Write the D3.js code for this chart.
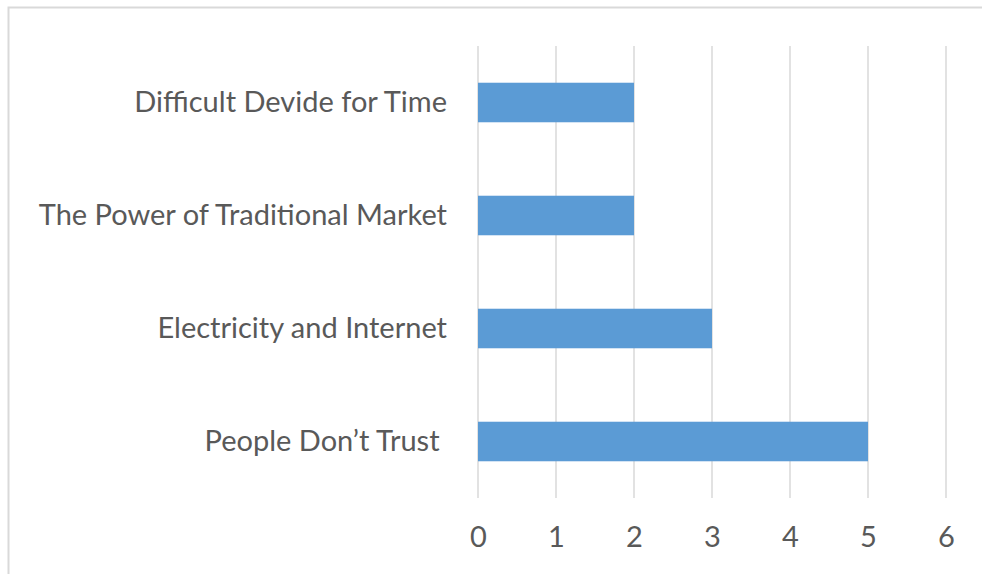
<!DOCTYPE html>
<html><head><meta charset="utf-8">
<script src="https://cdn.jsdelivr.net/npm/d3@7"></script>
<style>html,body{margin:0;padding:0;background:#fff;}svg{display:block;}</style>
</head><body>
<svg id="c" width="982" height="574"></svg>
<script>
const categories = ["Difficult Devide for Time", "The Power of Traditional Market", "Electricity and Internet", "People Don\u2019t Trust "];
const values = [2, 2, 3, 5];
const tickLabels = [0, 1, 2, 3, 4, 5, 6];

const svg = d3.select("#c");
const W = 982, H = 574;
const m = {left: 478, right: 35, top: 46, bottom: 76};

svg.append("rect").attr("x", 8.5).attr("y", 7.5).attr("width", 990).attr("height", 600)
  .attr("fill", "#fff").attr("stroke", "#d9d9d9").attr("stroke-width", 2);

const x = d3.scaleLinear().domain([0, 6]).range([m.left, m.left + 78 * 6]);
const y = d3.scaleBand().domain(categories).range([m.top, H - m.bottom]).paddingInner(0.65).paddingOuter(0.325);

const font = "Lato, 'Open Sans', sans-serif";

// gridlines
svg.append("g").selectAll("line").data(tickLabels).join("line")
  .attr("x1", d => x(d)).attr("x2", d => x(d))
  .attr("y1", m.top).attr("y2", H - m.bottom)
  .attr("stroke", "#d9d9d9").attr("stroke-width", 1.5);

// bars
svg.append("g").selectAll("rect").data(values).join("rect")
  .attr("x", x(0)).attr("y", (d, i) => y(categories[i]))
  .attr("width", d => x(d) - x(0)).attr("height", y.bandwidth())
  .attr("fill", "#5b9bd5");

// x axis labels
const xAxis = d3.axisBottom(x).tickValues(tickLabels).tickSize(0).tickPadding(0).tickFormat(d3.format("d"));
const gx = svg.append("g").attr("transform", `translate(0,${H - m.bottom})`).call(xAxis);
gx.select(".domain").remove();
gx.selectAll("text").attr("font-family", font).attr("font-size", 29).attr("fill", "#595959")
  .attr("dy", "0").attr("y", 49);

// y axis labels
const yAxis = d3.axisLeft(y).tickSize(0).tickPadding(31);
const gy = svg.append("g").attr("transform", `translate(${m.left},0)`).call(yAxis);
gy.select(".domain").remove();
gy.selectAll("text").attr("font-family", font).attr("font-size", 29).attr("fill", "#595959")
  .attr("xml:space", "preserve").style("white-space", "pre");
</script>
</body></html>
